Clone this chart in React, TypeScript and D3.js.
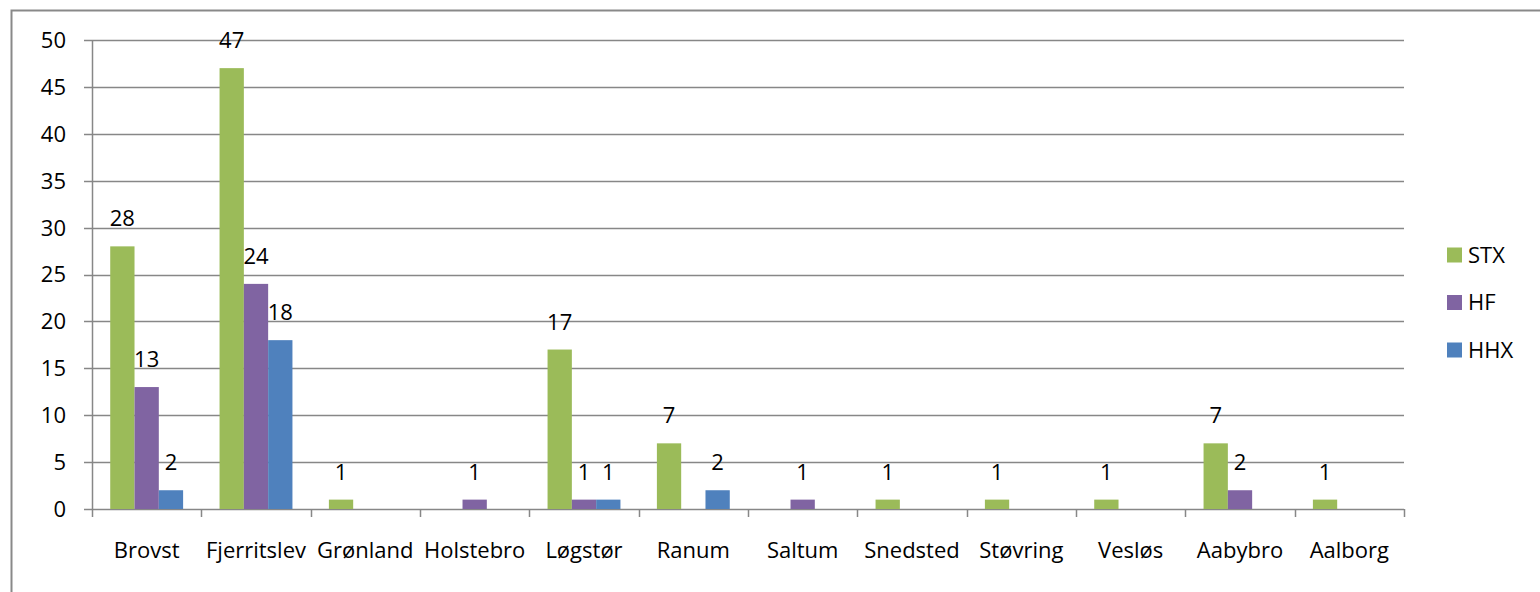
import React, { useEffect, useRef } from 'react';
import * as d3 from 'd3';

const categories = ['Brovst', 'Fjerritslev', 'Grønland', 'Holstebro', 'Løgstør', 'Ranum', 'Saltum', 'Snedsted', 'Støvring', 'Vesløs', 'Aabybro', 'Aalborg'];
const seriesNames = ['STX', 'HF', 'HHX'];
const stx = [28, 47, 1, null, 17, 7, null, 1, 1, 1, 7, 1];
const hf = [13, 24, null, 1, 1, null, 1, null, null, null, 2, null];
const hhx = [2, 18, null, null, 1, 2, null, null, null, null, null, null];
const seriesColors = ['#9bbb59', '#8064a2', '#4f81bd'];
const yTicks = [0, 5, 10, 15, 20, 25, 30, 35, 40, 45, 50];

const App = () => {
    const svgRef = useRef<SVGSVGElement>(null);

    useEffect(() => {
        document.body.style.margin = '0';
        const svg = d3.select(svgRef.current);
        svg.selectAll('*').remove();

        const font = '"Open Sans", Lato, sans-serif';
        const fs = 22;
        const left = 92, right = 1404, top = 40, bottom = 509;
        const grey = '#878787';

        const x = d3.scaleBand().domain(categories).range([left, right]).paddingInner(0).paddingOuter(0);
        const y = d3.scaleLinear().domain([0, 50]).range([bottom, top]);
        const barW = x.bandwidth() / 4.5;
        const inner = d3.scaleBand().domain(seriesNames).range([barW * 0.75, barW * 3.75]);

        // outer frame
        svg.append('path')
            .attr('d', 'M11.5,600 V10.5 H1545')
            .attr('fill', 'none')
            .attr('stroke', '#898989')
            .attr('stroke-width', 2);

        // gridlines + y ticks
        svg.append('g').selectAll('line')
            .data(yTicks)
            .enter()
            .append('line')
            .attr('x1', left - 8)
            .attr('x2', right)
            .attr('y1', (d) => Math.round(y(d)) + 0.5)
            .attr('y2', (d) => Math.round(y(d)) + 0.5)
            .attr('stroke', grey)
            .attr('stroke-width', 1.5);

        svg.append('g').selectAll('text')
            .data(yTicks)
            .enter()
            .append('text')
            .attr('x', 66)
            .attr('y', (d) => y(d))
            .attr('dy', '0.36em')
            .attr('text-anchor', 'end')
            .style('font-family', font)
            .style('font-size', fs)
            .attr('fill', '#000')
            .text((d) => d);

        // y axis line
        svg.append('line')
            .attr('x1', left + 0.5).attr('x2', left + 0.5)
            .attr('y1', top).attr('y2', bottom)
            .attr('stroke', grey).attr('stroke-width', 1.5);

        // x tick marks at category boundaries
        const bounds = categories.map((c) => x(c) as number).concat([right]);
        svg.append('g').selectAll('line')
            .data(bounds)
            .enter()
            .append('line')
            .attr('x1', (d) => Math.round(d) + 0.5)
            .attr('x2', (d) => Math.round(d) + 0.5)
            .attr('y1', bottom)
            .attr('y2', bottom + 8)
            .attr('stroke', grey)
            .attr('stroke-width', 1.5);

        // category labels
        svg.append('g').selectAll('text')
            .data(categories)
            .enter()
            .append('text')
            .attr('x', (d) => (x(d) as number) + x.bandwidth() / 2)
            .attr('y', 558)
            .attr('text-anchor', 'middle')
            .style('font-family', font)
            .style('font-size', fs)
            .attr('fill', '#000')
            .text((d) => d);

        const allSeries = [stx, hf, hhx];
        allSeries.forEach((vals, si) => {
            const pts = categories
                .map((c, i) => ({ c, v: vals[i] }))
                .filter((p) => p.v !== null) as { c: string; v: number }[];
            const g = svg.append('g');
            g.selectAll('rect')
                .data(pts)
                .enter()
                .append('rect')
                .attr('x', (d) => (x(d.c) as number) + (inner(seriesNames[si]) as number))
                .attr('y', (d) => y(d.v))
                .attr('width', barW)
                .attr('height', (d) => y(0) - y(d.v))
                .attr('fill', seriesColors[si]);
            g.selectAll('text')
                .data(pts)
                .enter()
                .append('text')
                .attr('x', (d) => (x(d.c) as number) + (inner(seriesNames[si]) as number) + barW / 2)
                .attr('y', (d) => y(d.v) - 20)
                .attr('text-anchor', 'middle')
                .style('font-family', font)
                .style('font-size', fs)
                .attr('fill', '#000')
                .text((d) => d.v);
        });

        // legend
        const legend = svg.append('g');
        seriesNames.forEach((name, i) => {
            const cy = 255 + i * 47.5;
            legend.append('rect')
                .attr('x', 1447).attr('y', cy - 7.5)
                .attr('width', 15).attr('height', 15)
                .attr('fill', seriesColors[i]);
            legend.append('text')
                .attr('x', 1468).attr('y', cy)
                .attr('dy', '0.36em')
                .style('font-family', font)
                .style('font-size', fs)
                .attr('fill', '#000')
                .text(name);
        });
    }, []);

    return (
        <svg ref={svgRef} width={1540} height={592} style={{ display: 'block', background: '#fff' }} />
    );
};

export default App;
